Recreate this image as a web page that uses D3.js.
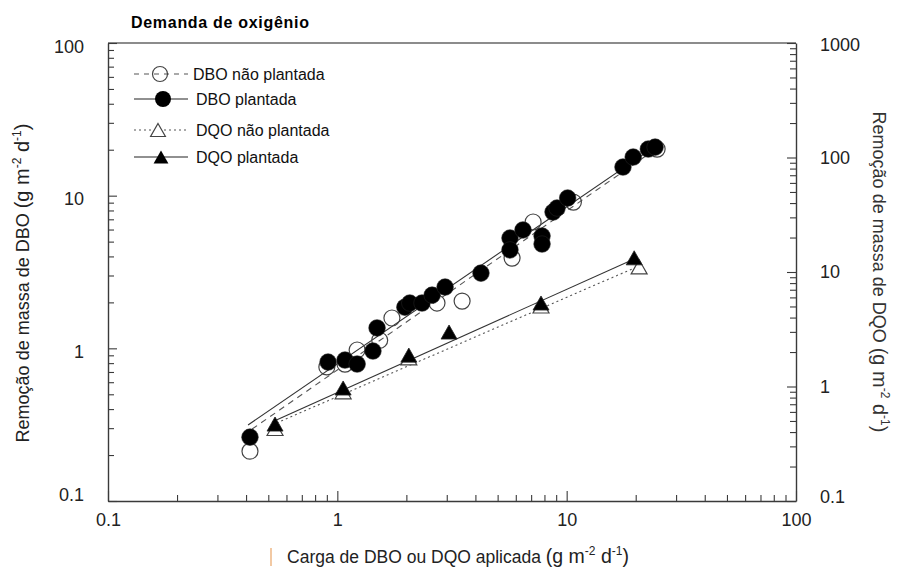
<!DOCTYPE html>
<html><head><meta charset="utf-8">
<script src="https://cdn.jsdelivr.net/npm/d3@7"></script>
<style>
body{margin:0;background:#fff}
svg{display:block;font-family:Arial,'Liberation Sans',sans-serif}
</style>
</head><body>
<svg id="chart" width="900" height="568"></svg>
<script>
// BOD removal vs applied load (left axis)
const dboUnplantedLoad    = [0.416, 0.90, 1.08, 1.22, 1.53, 1.73, 2.72, 3.50, 5.78, 7.14, 10.7, 24.8];
const dboUnplantedRemoval = [0.212, 0.755, 0.789, 0.975, 1.13, 1.58, 1.98, 2.04, 3.90, 6.72, 9.08, 20.2];
const dboPlantedLoad    = [0.416, 0.911, 1.08, 1.22, 1.43, 1.49, 1.97, 2.07, 2.34, 2.59, 2.95, 4.23, 5.66, 5.66, 6.45, 7.81, 7.81, 8.72, 9.08, 10.1, 17.6, 19.5, 22.7, 24.3];
const dboPlantedRemoval = [0.262, 0.813, 0.838, 0.789, 0.96, 1.36, 1.86, 1.98, 1.98, 2.23, 2.52, 3.11, 5.28, 4.41, 5.96, 5.44, 4.82, 7.81, 8.30, 9.65, 15.4, 17.9, 20.2, 20.8];

// COD removal vs applied load (right axis)
const dqoUnplantedLoad    = [0.535, 1.06, 2.05, 7.73, 20.7];
const dqoUnplantedRemoval = [0.43, 0.90, 1.78, 5.05, 11.1];
const dqoPlantedLoad    = [0.535, 1.06, 2.05, 3.07, 7.73, 19.7];
const dqoPlantedRemoval = [0.47, 0.97, 1.88, 2.99, 5.36, 13.3];

// Fitted trend lines
const dboUnplantedFitLoad    = [0.425, 25.5];
const dboUnplantedFitRemoval = [0.296, 21.1];
const dboPlantedFitLoad    = [0.408, 25.5];
const dboPlantedFitRemoval = [0.315, 22.1];
const dqoUnplantedFitLoad    = [0.519, 20.7];
const dqoUnplantedFitRemoval = [0.461, 11.3];
const dqoPlantedFitLoad    = [0.519, 19.7];
const dqoPlantedFitRemoval = [0.49, 13.0];

// Tick labels
const xTickLabels = ["0.1", "1", "10", "100"];
const leftTickLabels = ["0.1", "1", "10", "100"];
const rightTickLabels = ["0.1", "1", "10", "100", "1000"];

const legendLabels = ["DBO não plantada", "DBO plantada", "DQO não plantada", "DQO plantada"];

const svg = d3.select("#chart");
const L = 108, R = 796, T = 43, B = 501;
const axisColor = "#3a3a3a";

const x = d3.scaleLog().domain([0.1, 100]).range([L, R]);
const yL = d3.scaleLog().domain([0.1, 100]).range([B, T]);
const yR = d3.scaleLog().domain([0.1, 1000]).range([B, T]);

const zip = (a, b) => a.map((v, i) => [v, b[i]]);

// triangle symbol, centred on its bounding box
const tri = {
  draw(ctx, size) {
    const w = Math.sqrt(size) * 0.76, h = w * 0.88;
    ctx.moveTo(0, -h / 2); ctx.lineTo(w / 2, h / 2); ctx.lineTo(-w / 2, h / 2); ctx.closePath();
  }
};

function minorTicks(scale) {
  const [a, b] = scale.domain();
  const out = [];
  for (let e = Math.round(Math.log10(a)); e < Math.round(Math.log10(b)); e++) {
    for (let k = 2; k <= 9; k++) out.push(k * Math.pow(10, e));
  }
  return out;
}
function styleAxis(g) {
  g.selectAll("path.domain").attr("stroke", axisColor).attr("stroke-width", 1.4);
  g.selectAll(".tick line").attr("stroke", axisColor).attr("stroke-width", 1.1);
  g.selectAll("text").attr("fill", "#222").style("font-size", "18px").style("font-family", "Arial, 'Liberation Sans', sans-serif");
}

// top border
svg.append("line").attr("x1", L).attr("x2", R).attr("y1", T).attr("y2", T)
  .attr("stroke", "#666").attr("stroke-width", 1.4);

// bottom axis
const xMajor = xTickLabels.map(Number);
const gx = svg.append("g").attr("transform", `translate(0,${B})`);
gx.call(d3.axisBottom(x).tickValues(xMajor).tickFormat((d, i) => xTickLabels[i]).tickSize(-10).tickSizeOuter(0).tickPadding(12));
gx.append("g").call(d3.axisBottom(x).tickValues(minorTicks(x)).tickFormat("").tickSize(-6).tickSizeOuter(0))
  .select("path.domain").remove();
styleAxis(gx);

// left axis
const yMajor = leftTickLabels.map(Number);
const gl = svg.append("g").attr("transform", `translate(${L},0)`);
gl.call(d3.axisLeft(yL).tickValues(yMajor).tickFormat((d, i) => leftTickLabels[i]).tickSize(-9).tickSizeOuter(0).tickPadding(24));
gl.append("g").call(d3.axisLeft(yL).tickValues(minorTicks(yL)).tickFormat("").tickSize(-6).tickSizeOuter(0))
  .select("path.domain").remove();
styleAxis(gl);
gl.selectAll(".tick text").attr("dy", d => d === 0.1 ? "-0.05em" : "0.5em");

// right axis
const rMajor = rightTickLabels.map(Number);
const gr = svg.append("g").attr("transform", `translate(${R},0)`);
gr.call(d3.axisRight(yR).tickValues(rMajor).tickFormat((d, i) => rightTickLabels[i]).tickSize(-9).tickSizeOuter(0).tickPadding(24));
gr.append("g").call(d3.axisRight(yR).tickValues(minorTicks(yR)).tickFormat("").tickSize(-6).tickSizeOuter(0))
  .select("path.domain").remove();
styleAxis(gr);
gr.selectAll(".tick text").attr("dy", d => d === 0.1 ? "0.1em" : (d === 1000 ? "0.42em" : "0.32em"));

// trend lines
const lineL = d3.line().x(d => x(d[0])).y(d => yL(d[1]));
const lineR = d3.line().x(d => x(d[0])).y(d => yR(d[1]));
const plot = svg.append("g");
plot.append("path").attr("d", lineL(zip(dboUnplantedFitLoad, dboUnplantedFitRemoval)))
  .attr("fill", "none").attr("stroke", "#555").attr("stroke-width", 1.1).attr("stroke-dasharray", "6,5");
plot.append("path").attr("d", lineL(zip(dboPlantedFitLoad, dboPlantedFitRemoval)))
  .attr("fill", "none").attr("stroke", "#333").attr("stroke-width", 1.1);
plot.append("path").attr("d", lineR(zip(dqoUnplantedFitLoad, dqoUnplantedFitRemoval)))
  .attr("fill", "none").attr("stroke", "#555").attr("stroke-width", 1.1).attr("stroke-dasharray", "2,3");
plot.append("path").attr("d", lineR(zip(dqoPlantedFitLoad, dqoPlantedFitRemoval)))
  .attr("fill", "none").attr("stroke", "#333").attr("stroke-width", 1.1);

// markers
const triPath = d3.symbol().type(tri).size(443);
plot.selectAll(".dqoU").data(zip(dqoUnplantedLoad, dqoUnplantedRemoval)).join("path")
  .attr("transform", d => `translate(${x(d[0])},${yR(d[1])})`).attr("d", triPath)
  .attr("fill", "#fff").attr("stroke", "#444").attr("stroke-width", 1.2);
plot.selectAll(".dqoP").data(zip(dqoPlantedLoad, dqoPlantedRemoval)).join("path")
  .attr("transform", d => `translate(${x(d[0])},${yR(d[1])})`).attr("d", triPath)
  .attr("fill", "#000").attr("stroke", "#222").attr("stroke-width", 0.8);
plot.selectAll(".dboU").data(zip(dboUnplantedLoad, dboUnplantedRemoval)).join("circle")
  .attr("cx", d => x(d[0])).attr("cy", d => yL(d[1])).attr("r", 8)
  .attr("fill", "none").attr("stroke", "#444").attr("stroke-width", 1.2);
plot.selectAll(".dboP").data(zip(dboPlantedLoad, dboPlantedRemoval)).join("circle")
  .attr("cx", d => x(d[0])).attr("cy", d => yL(d[1])).attr("r", 8.3)
  .attr("fill", "#000").attr("stroke", "#222").attr("stroke-width", 0.6);

// legend
const legY = [74, 99, 130, 157];
const legTri = d3.symbol().type(tri).size(380);
const lg = svg.append("g");
legendLabels.forEach((lab, i) => {
  const y = legY[i];
  const dash = i === 0 ? "5,5" : (i === 2 ? "2,3" : null);
  lg.append("line").attr("x1", 134).attr("x2", 188).attr("y1", y).attr("y2", y)
    .attr("stroke", i % 2 ? "#222" : "#555").attr("stroke-width", 1.2).attr("stroke-dasharray", dash);
  if (i === 0) lg.append("circle").attr("cx", 160).attr("cy", y).attr("r", 7.5).attr("fill", "none").attr("stroke", "#444").attr("stroke-width", 1.2);
  if (i === 1) lg.append("circle").attr("cx", 163).attr("cy", y).attr("r", 8).attr("fill", "#000");
  if (i === 2) lg.append("path").attr("transform", `translate(158,${y})`).attr("d", legTri).attr("fill", "#fff").attr("stroke", "#444").attr("stroke-width", 1.2);
  if (i === 3) lg.append("path").attr("transform", `translate(161,${y})`).attr("d", legTri).attr("fill", "#000");
  lg.append("text").attr("x", i === 0 ? 193 : 196).attr("y", y).attr("dy", "0.35em")
    .style("font-size", "16px").attr("fill", "#111").text(lab);
});

// title
svg.append("text").attr("x", 131).attr("y", 28).style("font-size", "16px").style("font-weight", "bold")
  .style("letter-spacing", "0.7px").attr("fill", "#000").text("Demanda de oxigênio");

// axis titles with unit superscripts
function unitLabel(sel, main, mainSize, unitSize) {
  sel.append("tspan").style("font-size", mainSize + "px").text(main + "  ");
  sel.append("tspan").style("font-size", unitSize + "px").text("(g m");
  sel.append("tspan").style("font-size", "12px").attr("dy", -8).text("-2");
  sel.append("tspan").style("font-size", unitSize + "px").attr("dy", 8).text(" d");
  sel.append("tspan").style("font-size", "12px").attr("dy", -8).text("-1");
  sel.append("tspan").style("font-size", unitSize + "px").attr("dy", 8).text(")");
}
const xt = svg.append("text").attr("x", 458).attr("y", 563).attr("text-anchor", "middle").attr("fill", "#222");
unitLabel(xt, "Carga de DBO ou DQO aplicada", 17.5, 19.5);
svg.append("line").attr("x1", 271).attr("x2", 271).attr("y1", 548).attr("y2", 566).attr("stroke", "#e9a567").attr("stroke-width", 1.2);

const yt = svg.append("text").attr("transform", "translate(29,283) rotate(-90)").attr("text-anchor", "middle").attr("fill", "#222");
unitLabel(yt, "Remoção de massa de DBO", 18, 20);

const rt = svg.append("text").attr("transform", "translate(873,272) rotate(90)").attr("text-anchor", "middle").attr("fill", "#333");
unitLabel(rt, "Remoção de massa de DQO", 18, 20);
</script>
</body></html>
